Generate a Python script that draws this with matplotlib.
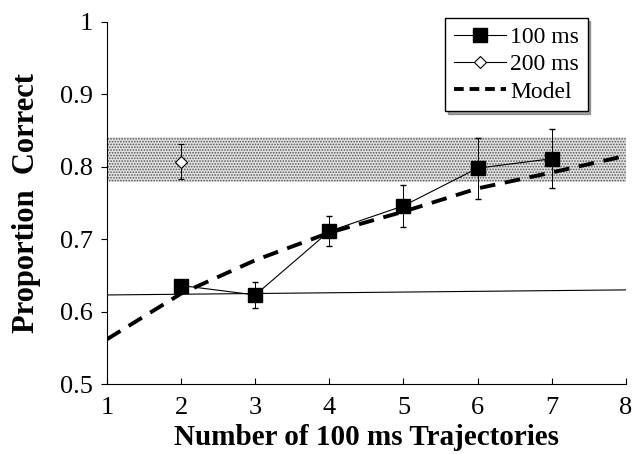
import matplotlib.pyplot as plt
from matplotlib.lines import Line2D

# data
x100 = [2, 3, 4, 5, 6, 7]
y100 = [0.636, 0.623, 0.711, 0.746, 0.798, 0.811]
e100 = [0.004, 0.018, 0.021, 0.029, 0.042, 0.041]

x200 = [2]
y200 = [0.807]
e200 = [0.024]

xmodel = [1, 2, 3, 4, 5, 6, 7, 8]
ymodel = [0.562, 0.625, 0.671, 0.709, 0.738, 0.770, 0.792, 0.815]

band_x = [1, 8]
band_lo = [0.779, 0.779]
band_hi = [0.841, 0.841]

chance_x = [1, 8]
chance_y = [0.623, 0.630]

plt.rcParams['font.family'] = ['Liberation Serif', 'DejaVu Serif']
plt.rcParams['hatch.linewidth'] = 0.8

fig = plt.figure(figsize=(6.34, 4.54), dpi=100)
ax = fig.add_axes([0.169, 0.154, 0.818, 0.798])

ax.fill_between(band_x, band_lo, band_hi, facecolor='#e2e2e2', edgecolor='#555555',
                hatch='......', linewidth=0, zorder=1)
ax.plot(chance_x, chance_y, color='black', lw=0.8, zorder=2)
ax.plot(xmodel, ymodel, color='black', lw=2.8, ls=(0, (4, 2.5)), zorder=3)
ax.errorbar(x100, y100, yerr=e100, color='black', lw=0.8, marker='s', ms=10,
            mfc='black', capsize=2.5, elinewidth=0.7, zorder=4)
ax.errorbar(x200, y200, yerr=e200, color='black', lw=0.8, marker='D', ms=6,
            mfc='white', mew=0.8, capsize=2.5, elinewidth=0.7, zorder=4)

ax.set_xlim(1, 8)
ax.set_ylim(0.5, 1)
ax.set_xticks(range(1, 9))
ax.set_yticks([0.5, 0.6, 0.7, 0.8, 0.9, 1])
ax.set_yticklabels(['0.5', '0.6', '0.7', '0.8', '0.9', '1'])
ax.spines['top'].set_visible(False)
ax.spines['right'].set_visible(False)
ax.tick_params(axis='x', direction='in', length=4, labelsize=19, pad=9)
ax.tick_params(axis='y', direction='out', length=4, labelsize=19, pad=6)

ax.set_xlabel('Number of 100 ms Trajectories', fontsize=21, fontweight='bold', labelpad=4)
ax.set_ylabel('Proportion  Correct', fontsize=22, fontweight='bold', labelpad=14)

handles = [
    Line2D([], [], color='black', lw=0.8, marker='s', ms=10, mfc='black'),
    Line2D([], [], color='black', lw=0.8, marker='D', ms=6, mfc='white', mew=0.8),
    Line2D([], [], color='black', lw=2.8, ls=(0, (2.5, 1.5))),
]
leg = ax.legend(handles, ['100 ms', '200 ms', 'Model'], loc='upper right',
                bbox_to_anchor=(0.94, 1.03), fontsize=17, fancybox=False, shadow=True,
                edgecolor='black', framealpha=1, handlelength=2.2, borderaxespad=0.3,
                labelspacing=0.25, handletextpad=0.2, borderpad=0.35)
leg.get_frame().set_linewidth(1)

fig.savefig('out.png', dpi=100)
